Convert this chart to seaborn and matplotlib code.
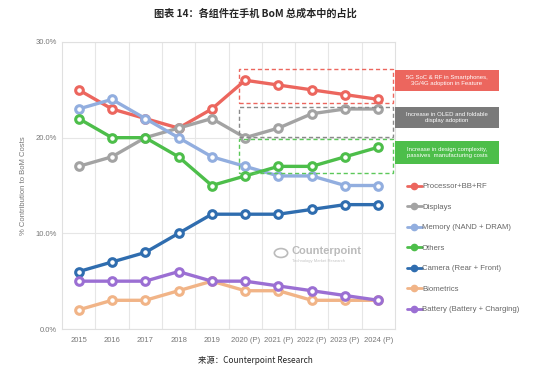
import pandas as pd
import numpy as np
from matplotlib import pyplot as plt
from matplotlib.patches import Rectangle, Circle
from matplotlib.lines import Line2D
import seaborn as sns

# Data (% of BoM cost)
years = ['2015', '2016', '2017', '2018', '2019',
         '2020 (P)', '2021 (P)', '2022 (P)', '2023 (P)', '2024 (P)']
processor = [25, 23, 22, 21, 23, 26, 25.5, 25, 24.5, 24]
displays = [17, 18, 20, 21, 22, 20, 21, 22.5, 23, 23]
memory = [23, 24, 22, 20, 18, 17, 16, 16, 15, 15]
others = [22, 20, 20, 18, 15, 16, 17, 17, 18, 19]
camera = [6, 7, 8, 10, 12, 12, 12, 12.5, 13, 13]
biometrics = [2, 3, 3, 4, 5, 4, 4, 3, 3, 3]
battery = [5, 5, 5, 6, 5, 5, 4.5, 4, 3.5, 3]

series_names = ['Processor+BB+RF', 'Displays', 'Memory (NAND + DRAM)', 'Others',
                'Camera (Rear + Front)', 'Biometrics', 'Battery (Battery + Charging)']
series_values = [processor, displays, memory, others, camera, biometrics, battery]
colors = ['#EC665E', '#A3A3A3', '#92AEDF', '#4DBE4A', '#2F6DAF', '#F1B487', '#9B6FD3']

notes = ['5G SoC & RF in Smartphones,\n3G/4G adoption in Feature',
         'Increase in OLED and foldable\ndisplay adoption',
         'Increase in design complexity,\npassives  manufacturing costs']
note_colors = ['#EC665E', '#7A7A7A', '#4DBE4A']
box_colors = ['#EC665E', '#8A8A8A', '#5CC85A']

# Long format table for seaborn
rows = []
for name, vals in zip(series_names, series_values):
    for i, v in enumerate(vals):
        rows.append({'x': i, 'year': years[i], 'value': v, 'component': name})
df = pd.DataFrame(rows)

sns.set_style('white')
plt.rcParams['font.family'] = ['Liberation Sans', 'Noto Sans CJK SC', 'DejaVu Sans']

W, H = 553, 370
fig = plt.figure(figsize=(W / 100, H / 100), dpi=100)
ax = fig.add_axes([62 / W, 1 - 329 / H, 333 / W, 287 / H])

sns.lineplot(data=df, x='x', y='value', hue='component', hue_order=series_names,
             palette=colors, marker='o', markersize=5.5, markerfacecolor='white',
             markeredgewidth=2.2, linewidth=2.4, ax=ax, legend=False)
# marker edges should match line colour
for line, c in zip(ax.get_lines(), colors):
    line.set_markeredgecolor(c)

ax.set_xlim(-0.5, 9.5)
ax.set_ylim(0, 30)
ax.set_xticks(range(len(years)))
ax.set_xticklabels(years)
ax.set_xticks(np.arange(0.5, 9.5, 1), minor=True)
ax.set_yticks([0, 10, 20, 30])
ax.set_yticklabels(['0.0%', '10.0%', '20.0%', '30.0%'])
ax.tick_params(axis='both', which='both', length=0, labelsize=5.5, labelcolor='#777777')
ax.tick_params(axis='x', pad=6)
ax.grid(axis='x', which='minor', color='#E6E6E6', linewidth=0.8)
ax.grid(axis='y', which='major', color='#E6E6E6', linewidth=0.8)
ax.set_axisbelow(True)
for s in ax.spines.values():
    s.set_color('#E0E0E0')
    s.set_linewidth(0.8)
ax.set_xlabel('')
ax.set_ylabel('% Contribution to BoM Costs', fontsize=5.5, color='#777777', labelpad=6)

# dashed highlight boxes over the forecast years
box_y = [(23.6, 27.2), (20.1, 23.2), (16.3, 19.9)]
for (y0, y1), c in zip(box_y, box_colors):
    ax.add_patch(Rectangle((4.82, y0), 9.44 - 4.82, y1 - y0, fill=False,
                           edgecolor=c, linestyle=(0, (3, 2)), linewidth=1.0,
                           clip_on=False, zorder=5))

# annotation boxes on the right
note_y = [(70, 91), (107, 128), (141, 164)]
for (y0, y1), c, t in zip(note_y, note_colors, notes):
    fig.add_artist(Rectangle((395 / W, 1 - y1 / H), 104 / W, (y1 - y0) / H,
                             transform=fig.transFigure, facecolor=c, edgecolor='none'))
    fig.text(447 / W, 1 - (y0 + y1) / 2 / H, t, ha='center', va='center',
             fontsize=4.3, color='white', linespacing=1.3)

# legend
handles = [Line2D([], [], color=c, linewidth=2, marker='o', markersize=4.5,
                  markerfacecolor=c, markeredgecolor=c) for c in colors]
leg = ax.legend(handles, series_names, loc='upper left', bbox_to_anchor=(403 / W, 1 - 179 / H),
                bbox_transform=fig.transFigure, frameon=False, fontsize=5.6,
                handlelength=1.9, handletextpad=0.05, labelspacing=1.68, borderpad=0)
for t in leg.get_texts():
    t.set_color('#666666')

# watermark
fig.add_artist(Circle((281 / W, 1 - 253 / H), 0.012, transform=fig.transFigure,
                      fill=False, edgecolor='#BBBBBB', linewidth=1.2))
fig.text(291 / W, 1 - 251 / H, 'Counterpoint', fontsize=8, color='#BBBBBB',
         fontweight='bold', va='center', ha='left')
fig.text(292 / W, 1 - 261 / H, 'Technology Market Research', fontsize=3, color='#C4C4C4',
         va='center', ha='left')

# title and source
fig.text(255 / W, 1 - 14 / H, '图表 14：各组件在手机 BoM 总成本中的占比', ha='center', va='center',
         fontsize=7.3, fontweight='bold', family=['Noto Sans CJK SC', 'DejaVu Sans'])
fig.text(255 / W, 1 - 360 / H, '来源：Counterpoint Research', ha='center', va='center',
         fontsize=6, style='italic', family=['Noto Sans CJK SC', 'DejaVu Sans'])

plt.savefig('out.png', dpi=100)
